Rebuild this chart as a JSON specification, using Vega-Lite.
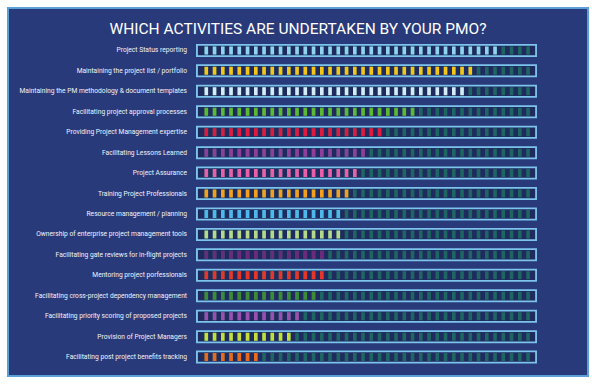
{
  "$schema": "https://vega.github.io/schema/vega-lite/v6.json",
  "width": 580,
  "height": 368,
  "autosize": "none",
  "padding": {"left": 8, "top": 8, "right": 11, "bottom": 10},
  "background": "#ffffff",
  "config": {
    "view": {"fill": "#293a7a", "stroke": "#5b9fd8", "strokeWidth": 2}
  },
  "title": {
    "text": "WHICH ACTIVITIES ARE UNDERTAKEN BY YOUR PMO?",
    "offset": -29,
    "fontSize": 15.5,
    "font": "Roboto",
    "fontWeight": "normal",
    "color": "#ffffff",
    "anchor": "middle"
  },
  "data": {
    "values": [
      {"activity": "Project Status reporting", "start": 0, "filled": 36},
      {"activity": "Maintaining the project list / portfolio", "start": 0, "filled": 33},
      {"activity": "Maintaining the PM methodology & document templates", "start": 0, "filled": 32},
      {"activity": "Facilitating project approval processes", "start": 0, "filled": 26},
      {"activity": "Providing Project Management expertise", "start": 0, "filled": 22},
      {"activity": "Facilitating Lessons Learned", "start": 0, "filled": 20},
      {"activity": "Project Assurance", "start": 0, "filled": 19},
      {"activity": "Training Project Professionals", "start": 0, "filled": 18},
      {"activity": "Resource management / planning", "start": 0, "filled": 17},
      {"activity": "Ownership of enterprise project management tools", "start": 0, "filled": 17},
      {"activity": "Facilitating gate reviews for in-flight projects", "start": 0, "filled": 15},
      {"activity": "Mentoring project porfessionals", "start": 0, "filled": 15},
      {"activity": "Facilitating cross-project dependency management", "start": 0, "filled": 14},
      {"activity": "Facilitating priority scoring of proposed projects", "start": 0, "filled": 12},
      {"activity": "Provision of Project Managers", "start": 0, "filled": 11},
      {"activity": "Facilitating post project benefits tracking", "start": 0, "filled": 7}
    ]
  },
  "encoding": {
    "y": {
      "field": "activity",
      "type": "nominal",
      "sort": null,
      "axis": null,
      "scale": {"paddingInner": 0, "paddingOuter": 1.1696, "align": 0.7876}
    }
  },
  "layer": [
    {
      "mark": {"type": "rule", "color": "#7cc4ec", "strokeWidth": 13, "strokeCap": "butt"},
      "encoding": {
        "x": {"datum": -1.03, "type": "quantitative", "axis": null, "scale": {"domain": [-23.818, 46.485], "nice": false, "zero": false}},
        "x2": {"datum": 40.3, "type": "quantitative"}
      }
    },
    {
      "mark": {"type": "rule", "color": "#1f2b5e", "strokeWidth": 9.5, "strokeCap": "butt"},
      "encoding": {
        "x": {"datum": -0.8, "type": "quantitative"},
        "x2": {"datum": 40.08, "type": "quantitative"}
      }
    },
    {
      "mark": {"type": "rule", "color": "#1e6662", "strokeWidth": 8, "strokeCap": "butt", "strokeDash": [3.6, 4.65]},
      "encoding": {
        "x": {"datum": 0, "type": "quantitative"},
        "x2": {"datum": 40, "type": "quantitative"}
      }
    },
    {
      "mark": {"type": "rule", "strokeWidth": 8, "strokeCap": "butt", "strokeDash": [3.6, 4.65]},
      "encoding": {
        "x": {"field": "start", "type": "quantitative"},
        "x2": {"field": "filled"},
        "color": {
          "field": "activity",
          "type": "nominal",
          "sort": null,
          "legend": null,
          "scale": {
            "domain": [
              "Project Status reporting",
              "Maintaining the project list / portfolio",
              "Maintaining the PM methodology & document templates",
              "Facilitating project approval processes",
              "Providing Project Management expertise",
              "Facilitating Lessons Learned",
              "Project Assurance",
              "Training Project Professionals",
              "Resource management / planning",
              "Ownership of enterprise project management tools",
              "Facilitating gate reviews for in-flight projects",
              "Mentoring project porfessionals",
              "Facilitating cross-project dependency management",
              "Facilitating priority scoring of proposed projects",
              "Provision of Project Managers",
              "Facilitating post project benefits tracking"
            ],
            "range": ["#8fd3f0", "#f5c518", "#d4ecf7", "#5db832", "#e0193f", "#8e3f9e", "#e95fa8", "#f4a01c", "#4db8ec", "#b5d98a", "#6b2a7c", "#e8352a", "#3d8c35", "#9b4fb0", "#c6de3a", "#e86a1f"]
          }
        }
      }
    },
    {
      "mark": {"type": "text", "align": "right", "baseline": "middle", "fontSize": 6.7, "font": "Roboto", "color": "#eef3fb"},
      "encoding": {
        "x": {"datum": -2.12, "type": "quantitative"},
        "text": {"field": "activity"}
      }
    }
  ]
}
